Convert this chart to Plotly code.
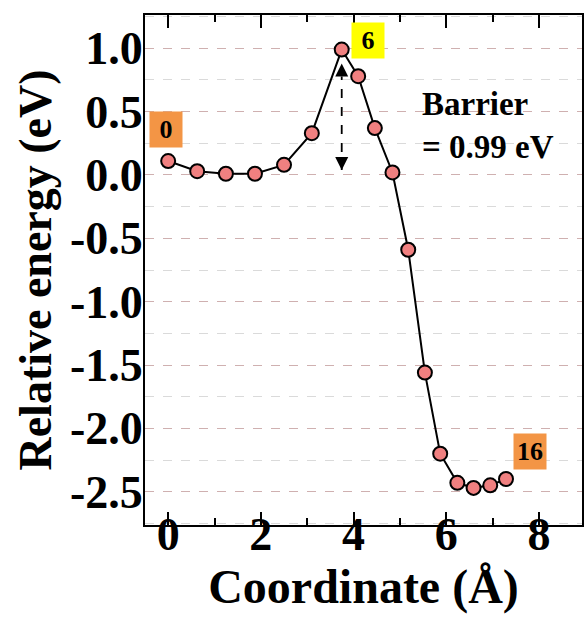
import plotly.graph_objects as go

# Reaction path: image coordinate vs. relative energy
coordinate = [0.0, 0.626, 1.246, 1.873, 2.50, 3.10, 3.745, 4.10, 4.46, 4.84,
              5.18, 5.54, 5.87, 6.24, 6.59, 6.95, 7.29]
energy = [0.11, 0.03, 0.01, 0.01, 0.08, 0.33, 0.99, 0.78, 0.37, 0.02,
          -0.59, -1.56, -2.20, -2.43, -2.47, -2.45, -2.40]

# Image labels: (text, x, y, colour)
image_labels = [("0", -0.04, 0.36, "#F39545"),
                ("6", 4.32, 1.06, "#FFFF00"),
                ("16", 7.81, -2.18, "#F39545")]

barrier = 0.99
arrow_x = 3.745
arrow_y = [0.04, 0.88]

y_ticks = [1.0, 0.5, 0.0, -0.5, -1.0, -1.5, -2.0, -2.5]
y_ticktext = ["1.0", "0.5", "0.0", "-0.5", "-1.0", "-1.5", "-2.0", "-2.5"]
x_ticks = [0, 2, 4, 6, 8]

FONT = "Liberation Serif"

fig = go.Figure()

# dashed double-headed arrow marking the barrier
fig.add_trace(go.Scatter(
    x=[arrow_x, arrow_x], y=arrow_y, mode="lines+markers",
    line=dict(color="black", width=1.8, dash="dash"),
    marker=dict(symbol=["arrow-down", "arrow-up"], size=13, color="black"),
    hoverinfo="skip", showlegend=False,
))

fig.add_trace(go.Scatter(
    x=coordinate, y=energy, mode="lines+markers",
    line=dict(color="black", width=2),
    marker=dict(size=14, color="#F08080", line=dict(color="black", width=2)),
    showlegend=False,
))

for text, lx, ly, colour in image_labels:
    fig.add_annotation(
        x=lx, y=ly, text=text, showarrow=False, bgcolor=colour,
        width=30, height=33, xanchor="center", yanchor="middle",
        font=dict(family=FONT, size=26, color="black", weight="bold"),
    )

fig.add_annotation(
    x=5.44, y=0.39, xanchor="left", yanchor="middle", align="left",
    text=f"Barrier<br>= {barrier:.2f} eV", showarrow=False,
    font=dict(family=FONT, size=33, color="black", weight="bold"),
)

fig.update_layout(
    width=584, height=624,
    margin=dict(l=145, r=2, t=15, b=99, autoexpand=False),
    paper_bgcolor="white", plot_bgcolor="white",
    font=dict(family=FONT, color="black", weight="bold"),
)

fig.update_xaxes(
    range=[-0.5, 8.93], tickvals=x_ticks, automargin=False,
    ticks="inside", ticklen=13, tickwidth=2, tickcolor="black",
    ticklabelstandoff=-32,
    minor=dict(dtick=1, tick0=0, ticks="inside", ticklen=7, tickwidth=2,
               tickcolor="black", showgrid=False),
    showline=True, linecolor="black", linewidth=2, mirror="ticks",
    showgrid=False, zeroline=False,
    tickfont=dict(family=FONT, size=46, weight="bold"),
    title=dict(text="Coordinate (Å)", standoff=4,
               font=dict(family=FONT, size=48, weight="bold")),
)

fig.update_yaxes(
    range=[-2.763, 1.263], tickvals=y_ticks, ticktext=y_ticktext,
    automargin=False, ticklabelstandoff=-9,
    ticks="", showline=True, linecolor="black", linewidth=2, mirror=True,
    showgrid=True, gridcolor="#CFB0B0", gridwidth=1, griddash="dash",
    minor=dict(dtick=0.25, tick0=0, showgrid=True, gridcolor="#DADADA",
               gridwidth=1, griddash="dash"),
    zeroline=False,
    tickfont=dict(family=FONT, size=46, weight="bold"),
    title=dict(text="Relative energy (eV)", standoff=4,
               font=dict(family=FONT, size=46, weight="bold")),
)

fig.write_html("out.html")
